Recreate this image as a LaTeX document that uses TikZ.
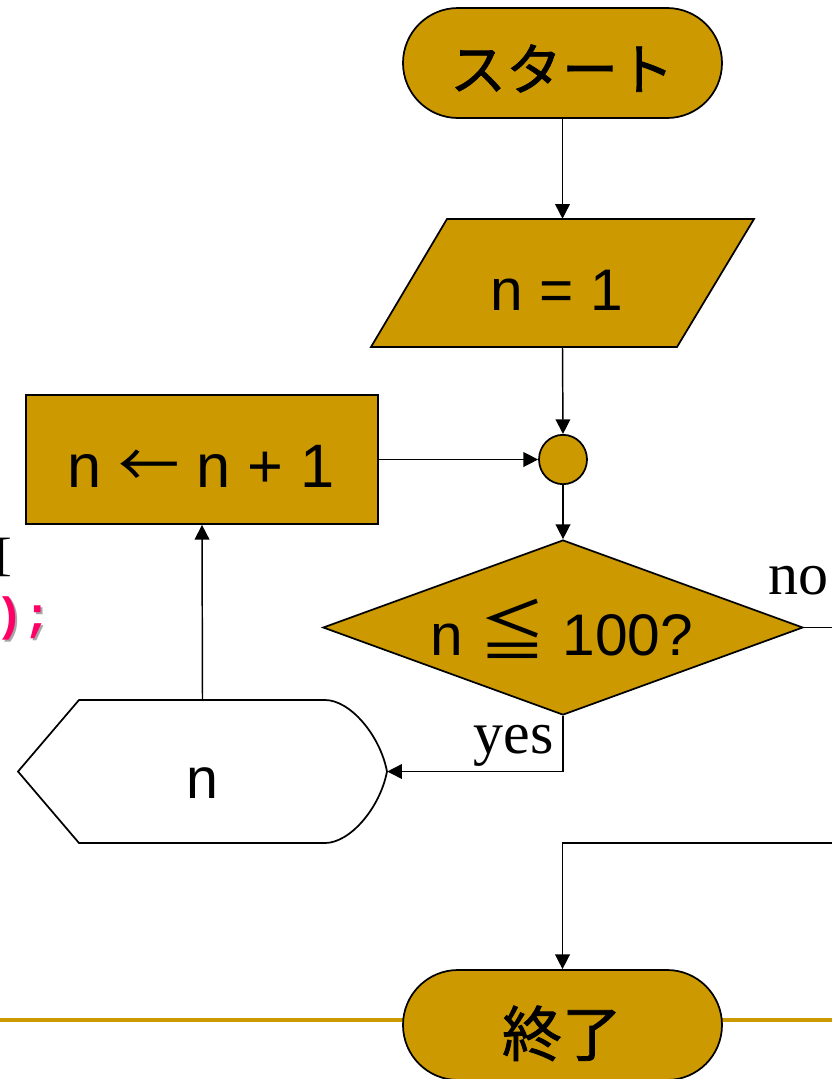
\documentclass[tikz,border=0pt]{standalone}
\usepackage{fontspec}
\setmainfont{Liberation Serif}
\newfontfamily\sansf{Liberation Sans}
\newfontfamily\cjk{Noto Sans CJK JP}
\newfontfamily\cjkheavy[FakeBold=1.2]{Noto Sans CJK JP}
\newfontfamily\monof{Liberation Mono}
\usetikzlibrary{arrows.meta,shapes.misc,shapes.geometric}
\definecolor{gold}{RGB}{204,153,0}
\definecolor{codepink}{RGB}{255,0,102}
\begin{document}
\begin{tikzpicture}[x=0.75pt,y=-0.75pt,
  shapeline/.style={draw=black,line width=1.3pt},
  term/.style={shapeline,fill=gold,rounded rectangle,minimum width=239.25pt,minimum height=82.5pt,inner sep=0pt},
  procbox/.style={shapeline,fill=gold,rectangle,inner sep=0pt},
  ghost/.style={rectangle,inner sep=0pt},
  conn/.style={draw=black,line width=1.1pt,-{Triangle[length=11pt,width=11pt]}},
  sanslbl/.style={inner sep=0pt,anchor=base,font={\sansf\fontsize{44pt}{50pt}\selectfont}},
  cjklbl/.style={inner sep=0pt,anchor=base,font={\cjkheavy\fontsize{42pt}{48pt}\selectfont}},
  seriflbl/.style={inner sep=0pt,font={\fontsize{45pt}{50pt}\selectfont}},
  codelbl/.style={inner sep=0pt,anchor=base west,font={\monof\bfseries\fontsize{35pt}{40pt}\selectfont}}
]
\useasboundingbox (0,0) rectangle (832,1079);

% partial code text at the left edge
\node[inner sep=0pt,anchor=base west,font={\fontsize{35pt}{40pt}\selectfont}] (brk) at (-4,570) {[};
\node[codelbl,text=black!35] (codeshadow) at (-3,632) {);};
\node[codelbl,text=codepink] (code) at (-5,630) {);};

% gold rule behind the end terminal
\draw[gold,line width=3pt] (0,1020) -- (832,1020);

% start terminal
\node[term] (start) at (562.5,63) {};
\node[cjklbl] (startlbl) at (562,90) {スタート};

% input parallelogram
\path[shapeline,fill=gold] (447,219) -- (754,219) -- (677,347) -- (371,347) -- cycle;
\node[ghost,minimum width=230pt,minimum height=96pt] (init) at (562.5,283) {};
\node[sanslbl] (initlbl) at (557,310) {n = 1};

% junction circle
\node[shapeline,fill=gold,ellipse,minimum width=36pt,minimum height=37pt,inner sep=0pt] (join) at (563,459.5) {};

% increment box
\node[procbox,minimum width=264pt,minimum height=96.75pt] (inc) at (202,459.5) {};
\node[sanslbl,font={\sansf\fontsize{46pt}{52pt}\selectfont}] (inclbl) at (201,487) {n {\cjk ←} n + 1};

% decision diamond
\node[shapeline,fill=gold,diamond,minimum width=360pt,minimum height=131.25pt,inner sep=0pt] (dec) at (563,627.5) {};
\node[sanslbl] (declbl) at (562,655) {n {\cjk\fontsize{50pt}{52pt}\selectfont ≦} 100?};

% display shape
\path[shapeline,fill=white] (18,771.5) -- (79,700) -- (325,700)
  .. controls (350,700) and (380,735) .. (387,771.5)
  .. controls (380,808) and (350,843) .. (325,843) -- (79,843) -- cycle;
\node[ghost,minimum width=276.75pt,minimum height=107.25pt] (disp) at (202.5,771.5) {};
\node[sanslbl,font={\sansf\fontsize{43pt}{50pt}\selectfont}] (displbl) at (202,798) {n};

% end terminal
\node[term] (finish) at (562.5,1025) {};
\node[cjklbl,font={\cjkheavy\fontsize{45pt}{50pt}\selectfont}] (finishlbl) at (562,1056) {終了};

% connectors
\draw[conn] (start.south) -- (init.north);
\draw[conn] (init.south) -- (join.north);
\draw[conn] (join.south) -- (dec.north);
\draw[conn] (inc.east) -- (join.west);
\draw[conn] (dec.south) |- (disp.east);
\draw[conn] (disp.north) -- (inc.south);
\coordinate (noturn) at (860,843);
\draw[conn] (dec.east) -| (noturn) -| (finish.north);

% branch labels
\node[seriflbl,anchor=base east] (yeslbl) at (554,753) {yes};
\node[seriflbl,anchor=base west] (nolbl) at (768,594) {no};
\end{tikzpicture}
\end{document}
